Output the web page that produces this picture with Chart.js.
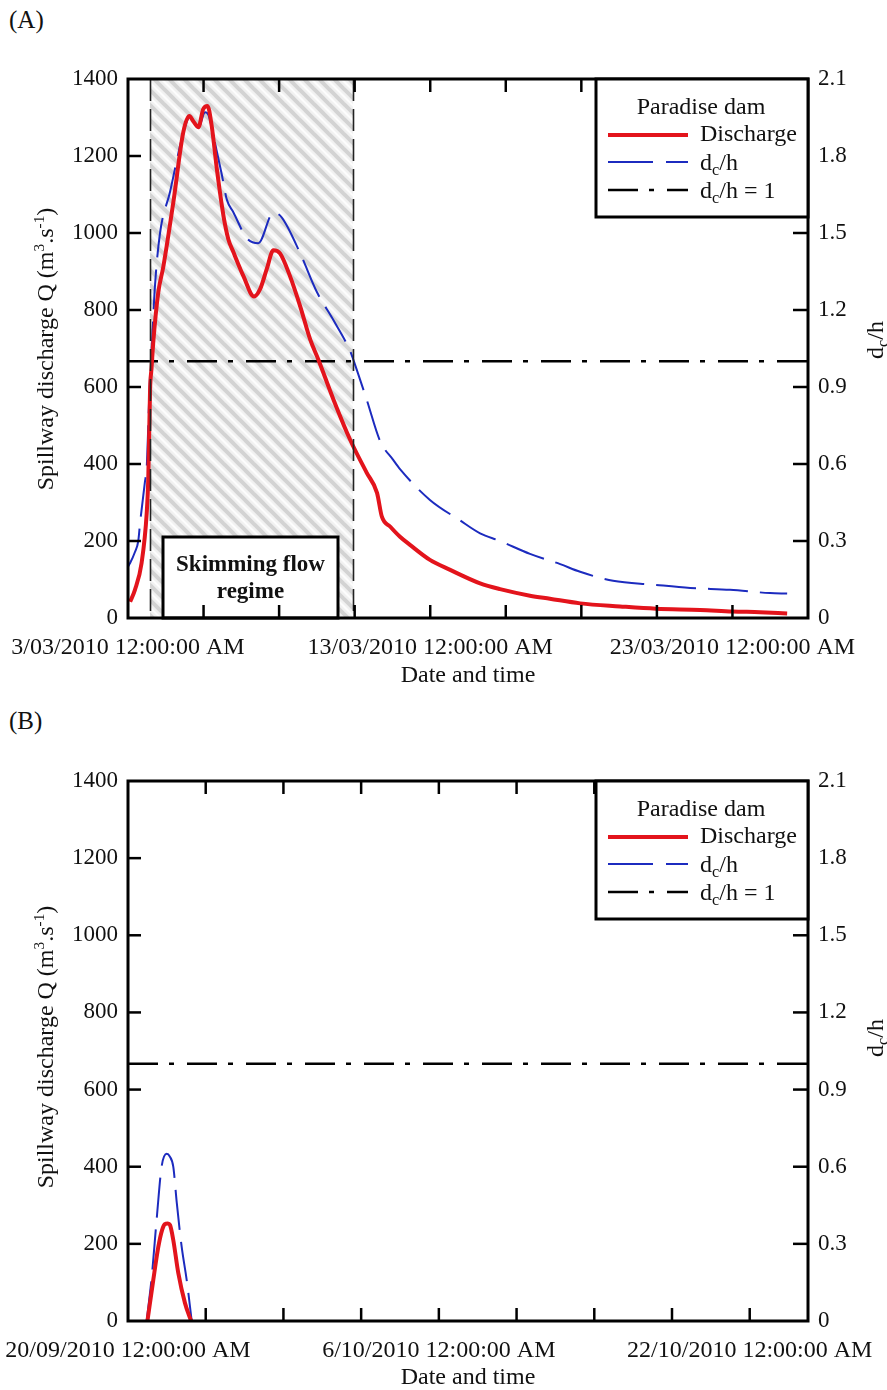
<!DOCTYPE html>
<html>
<head>
<meta charset="utf-8">
<script src="https://cdn.jsdelivr.net/npm/chart.js@4.4.1/dist/chart.umd.min.js"></script>
<style>
  html, body { margin: 0; padding: 0; background: #fff; }
  #wrap { position: relative; width: 887px; height: 1390px; overflow: hidden; }
  canvas { position: absolute; left: 0; }
  .panel { position: absolute; left: 9px; font-family: 'Liberation Serif', 'Times New Roman', serif; font-size: 25px; line-height: 1; color: #111; }
</style>
</head>
<body>
<div id="wrap">
  <div class="panel" style="top:7px">(A)</div>
  <canvas id="cA" width="887" height="695" style="top:0"></canvas>
  <div class="panel" style="top:708px">(B)</div>
  <canvas id="cB" width="887" height="695" style="top:695px"></canvas>
</div>
<script>
// ---------------- DATA ----------------
// Panel A: time in days since 3/03/2010 12:00:00 AM
const daysA_Q = [0.07, 0.23, 0.45, 0.62, 0.67, 0.73, 0.78, 0.84, 1.00, 1.17, 1.50, 1.83, 2.03, 2.16, 2.33, 2.49, 2.63, 2.77, 2.94, 3.16, 3.32, 3.49, 3.82, 4.17, 4.37, 4.59, 4.81, 5.03, 5.36, 5.70, 6.03, 6.30, 6.80, 7.35, 7.90, 8.24, 8.40, 8.68, 9.00, 9.33, 9.99, 10.66, 11.65, 12.31, 13.30, 13.96, 14.96, 16.28, 17.47, 18.93, 19.99, 20.91, 21.81];
const dischargeA = [42, 73, 143, 273, 359, 593, 650, 720, 845, 913, 1080, 1262, 1304, 1290, 1275, 1322, 1330, 1278, 1166, 1044, 984, 950, 888, 835, 854, 906, 955, 947, 888, 809, 723, 671, 567, 463, 377, 325, 263, 237, 211, 190, 151, 125, 90, 75, 58, 50, 38, 30, 24, 21, 17, 15, 12];
const daysA_R = [0.00, 0.07, 0.23, 0.34, 0.40, 0.56, 0.62, 0.73, 0.78, 0.89, 1.06, 1.39, 1.61, 1.83, 2.03, 2.33, 2.55, 2.66, 2.88, 3.10, 3.27, 3.49, 3.93, 4.31, 4.81, 5.09, 5.70, 6.25, 6.80, 7.35, 7.46, 7.90, 8.34, 8.78, 9.00, 9.99, 10.99, 11.65, 12.31, 13.30, 14.30, 14.96, 16.05, 17.37, 18.60, 19.92, 21.24, 21.81];
const dchA = [0.20, 0.214, 0.257, 0.30, 0.37, 0.53, 0.59, 0.95, 1.04, 1.29, 1.50, 1.66, 1.78, 1.89, 1.95, 1.91, 1.97, 1.96, 1.85, 1.73, 1.63, 1.58, 1.48, 1.46, 1.58, 1.56, 1.42, 1.27, 1.16, 1.04, 1.005, 0.85, 0.69, 0.615, 0.58, 0.46, 0.38, 0.33, 0.30, 0.25, 0.21, 0.18, 0.145, 0.13, 0.117, 0.11, 0.097, 0.095];
const skimStartA = 0.73, skimEndA = 7.45;   // skimming flow regime (days)
const xMaxA = 22.5, xStepA = 2.5;
const xLabelsA = { 0: '3/03/2010 12:00:00 AM', 10: '13/03/2010 12:00:00 AM', 20: '23/03/2010 12:00:00 AM' };

// Panel B: time in days since 20/09/2010 12:00:00 AM
const daysB_Q = [1.00, 1.30, 1.56, 1.75, 1.90, 2.05, 2.16, 2.33, 2.59, 2.93, 3.19, 3.25];
const dischargeB = [0, 106, 192, 235, 251, 253, 249, 210, 124, 47, 8, 0];
const daysB_R = [0.96, 1.22, 1.48, 1.73, 1.99, 2.15, 2.33, 2.51, 2.76, 3.02, 3.28];
const dchB = [0, 0.17, 0.40, 0.60, 0.65, 0.64, 0.60, 0.46, 0.29, 0.16, 0];
const xMaxB = 35, xStepB = 4;
const xLabelsB = { 0: '20/09/2010 12:00:00 AM', 16: '6/10/2010 12:00:00 AM', 32: '22/10/2010 12:00:00 AM' };

// Axes
const qMax = 1400, qStep = 200;
const rMax = 2.1, rStep = 0.3;
const refRatio = [1, 1];   // d_c/h = 1

// ---------------- DRAWING ----------------
const FONT = "'Liberation Serif', 'Times New Roman', serif";
const FS = 24;
Chart.defaults.font.family = FONT;
Chart.defaults.font.size = FS;
Chart.defaults.color = '#111';

function makePattern(ctx) {
  const s = 15;
  const pc = document.createElement('canvas');
  pc.width = s; pc.height = s;
  const p = pc.getContext('2d');
  p.fillStyle = '#f1f1f1'; p.fillRect(0, 0, s, s);
  p.strokeStyle = '#d3d3d3'; p.lineWidth = 4;
  for (const o of [-s, 0, s]) {
    p.beginPath(); p.moveTo(o - 2, -2); p.lineTo(o + s + 2, s + 2); p.stroke();
  }
  p.strokeStyle = '#fdfdfd'; p.lineWidth = 2;
  for (const o of [-s, 0, s]) {
    p.beginPath(); p.moveTo(o + s / 2 - 2, -2); p.lineTo(o + s * 1.5 + 2, s + 2); p.stroke();
  }
  return ctx.createPattern(pc, 'repeat');
}

function textParts(ctx, parts, size) {
  let w = 0;
  for (const pt of parts) {
    ctx.font = (size * (pt.s || 1)) + 'px ' + FONT;
    pt.w = ctx.measureText(pt.t).width; w += pt.w;
  }
  return w;
}
function drawParts(ctx, parts, x, y, size) {
  let cx = x;
  for (const pt of parts) {
    ctx.font = (size * (pt.s || 1)) + 'px ' + FONT;
    ctx.fillText(pt.t, cx, y + (pt.dy || 0) * size);
    cx += pt.w;
  }
}
function dchParts(suffix) {
  return [{ t: 'd' }, { t: 'c', s: 0.68, dy: 0.22 }, { t: '/h' + suffix }];
}

function framePlugin(cfg) {
  return {
    id: 'frame' + cfg.id,
    beforeDatasetsDraw(chart) {
      const { ctx, chartArea: a, scales } = chart;
      if (cfg.skim) {
        const x1 = scales.x.getPixelForValue(cfg.skim[0]);
        const x2 = scales.x.getPixelForValue(cfg.skim[1]);
        ctx.save();
        ctx.fillStyle = makePattern(ctx);
        ctx.fillRect(x1, a.top, x2 - x1, a.bottom - a.top);
        ctx.restore();
      }
    },
    afterDatasetsDraw(chart) {
      const { ctx, chartArea: a, scales } = chart;
      ctx.save();
      if (cfg.skim) {
        ctx.strokeStyle = '#222'; ctx.lineWidth = 1.6; ctx.setLineDash([22, 8]);
        for (const v of cfg.skim) {
          const x = Math.round(scales.x.getPixelForValue(v)) + 0.5;
          ctx.beginPath(); ctx.moveTo(x, a.top); ctx.lineTo(x, a.bottom); ctx.stroke();
        }
        ctx.setLineDash([]);
        // Skimming flow regime box
        const bx = a.left + 35, bw = 175, bh = 81, by = a.bottom - bh;
        ctx.fillStyle = '#fff'; ctx.fillRect(bx, by, bw, bh);
        ctx.lineWidth = 3; ctx.strokeStyle = '#000'; ctx.strokeRect(bx, by, bw, bh);
        ctx.fillStyle = '#111'; ctx.font = 'bold 23px ' + FONT;
        ctx.textAlign = 'center'; ctx.textBaseline = 'middle';
        ctx.fillText('Skimming flow', bx + bw / 2, by + 28);
        ctx.fillText('regime', bx + bw / 2, by + 55);
      }
      // inward ticks
      ctx.strokeStyle = '#000'; ctx.lineWidth = 2.5; ctx.setLineDash([]);
      for (const t of scales.y.ticks) {
        if (t.value <= 0 || t.value >= qMax) continue;
        const y = scales.y.getPixelForValue(t.value);
        ctx.beginPath(); ctx.moveTo(a.left, y); ctx.lineTo(a.left + 13, y); ctx.stroke();
        ctx.beginPath(); ctx.moveTo(a.right, y); ctx.lineTo(a.right - 15, y); ctx.stroke();
      }
      for (const t of scales.x.ticks) {
        if (t.value <= 0 || t.value >= scales.x.max - 1e-6) continue;
        const x = scales.x.getPixelForValue(t.value);
        ctx.beginPath(); ctx.moveTo(x, a.bottom); ctx.lineTo(x, a.bottom - 13); ctx.stroke();
        ctx.beginPath(); ctx.moveTo(x, a.top); ctx.lineTo(x, a.top + 13); ctx.stroke();
      }
      // frame
      ctx.lineWidth = 3;
      ctx.strokeRect(a.left, a.top, a.right - a.left, a.bottom - a.top);

      // legend
      const lw = 212, lh = 138, lx = a.right - lw, ly = a.top;
      ctx.fillStyle = '#fff'; ctx.fillRect(lx, ly, lw, lh);
      ctx.lineWidth = 3; ctx.strokeStyle = '#000'; ctx.strokeRect(lx, ly, lw, lh);
      ctx.fillStyle = '#111'; ctx.textBaseline = 'middle'; ctx.textAlign = 'center';
      ctx.font = FS + 'px ' + FONT;
      ctx.fillText('Paradise dam', lx + 105, ly + 29);
      ctx.textAlign = 'left';
      ctx.fillText('Discharge', lx + 104, ly + 56);
      const rows = [
        { y: ly + 56, color: '#e3141c', w: 4, dash: [] },
        { y: ly + 83, color: '#1c2bbf', w: 2, dash: [45, 13] },
        { y: ly + 111, color: '#000', w: 2.5, dash: [30, 11, 5, 13] }
      ];
      for (const r of rows) {
        ctx.strokeStyle = r.color; ctx.lineWidth = r.w; ctx.setLineDash(r.dash);
        ctx.beginPath(); ctx.moveTo(lx + 12, r.y); ctx.lineTo(lx + 92, r.y); ctx.stroke();
      }
      ctx.setLineDash([]);
      ctx.textBaseline = 'alphabetic';
      let p1 = dchParts(''); textParts(ctx, p1, FS); drawParts(ctx, p1, lx + 104, ly + 91, FS);
      let p2 = dchParts(' = 1'); textParts(ctx, p2, FS); drawParts(ctx, p2, lx + 104, ly + 119, FS);

      // axis titles
      ctx.fillStyle = '#111';
      const lt = [{ t: 'Spillway discharge Q (m' }, { t: '3', s: 0.64, dy: -0.38 }, { t: '.s' }, { t: '-1', s: 0.64, dy: -0.38 }, { t: ')' }];
      const lwid = textParts(ctx, lt, FS);
      ctx.save();
      ctx.translate(53, cfg.leftTitleY); ctx.rotate(-Math.PI / 2);
      drawParts(ctx, lt, -lwid / 2, 0, FS);
      ctx.restore();
      const rt = dchParts('');
      const rwid = textParts(ctx, rt, FS);
      ctx.save();
      ctx.translate(883, cfg.rightTitleY); ctx.rotate(-Math.PI / 2);
      drawParts(ctx, rt, -rwid / 2, 0, FS);
      ctx.restore();
      ctx.font = FS + 'px ' + FONT; ctx.textAlign = 'center'; ctx.textBaseline = 'middle';
      ctx.fillText('Date and time', (a.left + a.right) / 2, cfg.xTitleY);
      ctx.restore();
    }
  };
}

function makeChart(id, o) {
  const H = 695;
  const toPts = (xs, ys) => xs.map((x, i) => ({ x, y: ys[i] }));
  return new Chart(document.getElementById(id), {
    type: 'line',
    data: {
      datasets: [
        { label: 'Discharge', data: toPts(o.dq, o.q), yAxisID: 'y', borderColor: '#e3141c', borderWidth: 4, pointRadius: 0, cubicInterpolationMode: 'monotone', order: 1 },
        { label: 'dc/h', data: toPts(o.dr, o.r), yAxisID: 'y2', borderColor: '#1c2bbf', borderWidth: 2, borderDash: [40, 12], pointRadius: 0, cubicInterpolationMode: 'monotone', order: 2 },
        { label: 'dc/h = 1', data: toPts([0, o.xMax], refRatio), yAxisID: 'y2', borderColor: '#000', borderWidth: 2.5, borderDash: [30, 11, 5, 13], pointRadius: 0, order: 3 }
      ]
    },
    options: {
      responsive: false, animation: false, devicePixelRatio: 1,
      layout: { padding: { top: o.top, left: 0, right: 0, bottom: 0 } },
      plugins: { legend: { display: false }, tooltip: { enabled: false } },
      scales: {
        x: {
          type: 'linear', min: 0, max: o.xMax,
          grid: { display: false, drawTicks: false }, border: { display: false },
          ticks: { stepSize: o.xStep, autoSkip: false, maxRotation: 0, padding: 15,
            callback: (v) => (o.labels[v] !== undefined ? o.labels[v] : '') },
          afterFit: (s) => { s.height = H - o.bottom; s.paddingLeft = 0; s.paddingRight = 0; }
        },
        y: {
          position: 'left', min: 0, max: qMax,
          grid: { display: false, drawTicks: false }, border: { display: false },
          ticks: { stepSize: qStep, padding: 10, font: { size: 23 }, callback: (v) => String(v) },
          afterFit: (s) => { s.width = 128; s.paddingTop = 0; s.paddingBottom = 0; }
        },
        y2: {
          position: 'right', min: 0, max: rMax,
          grid: { display: false, drawTicks: false }, border: { display: false },
          ticks: { stepSize: rStep, padding: 10, font: { size: 23 }, callback: (v) => (Math.round(v * 10) / 10).toString() },
          afterFit: (s) => { s.width = 79; s.paddingTop = 0; s.paddingBottom = 0; }
        }
      }
    },
    plugins: [framePlugin(o)]
  });
}

makeChart('cA', { id: 'A', dq: daysA_Q, q: dischargeA, dr: daysA_R, r: dchA, xMax: xMaxA, xStep: xStepA, labels: xLabelsA,
  top: 79, bottom: 618, skim: [skimStartA, skimEndA], leftTitleY: 349, rightTitleY: 340, xTitleY: 676 });
makeChart('cB', { id: 'B', dq: daysB_Q, q: dischargeB, dr: daysB_R, r: dchB, xMax: xMaxB, xStep: xStepB, labels: xLabelsB,
  top: 86, bottom: 626, skim: null, leftTitleY: 352, rightTitleY: 343, xTitleY: 683 });
</script>
</body>
</html>
